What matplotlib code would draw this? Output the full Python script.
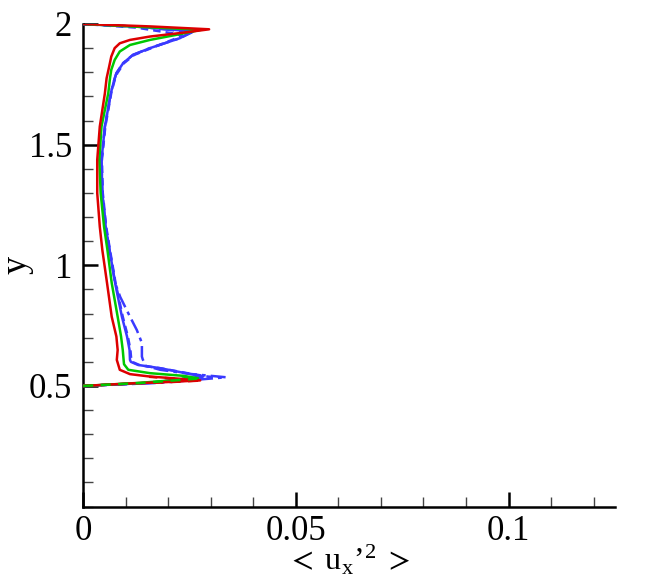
import matplotlib
matplotlib.use("Agg")
import matplotlib.pyplot as plt
from matplotlib.ticker import MultipleLocator, FixedLocator, FixedFormatter

plt.rcParams['font.family'] = ['Liberation Serif', 'DejaVu Serif']
plt.rcParams['mathtext.fontset'] = 'stix'

# ---- data ----
red_x = [0, 0.0117, 0.0195, 0.0275, 0.0211, 0.0157, 0.0110, 0.0086, 0.0079, 0.0081,
         0.0078, 0.0067, 0.0056, 0.0045, 0.0039, 0.0033, 0.0033, 0.0039, 0.0051, 0.0055,
         0.0061, 0.0066, 0.0074, 0.0086, 0.0110, 0.0157, 0.0235, 0.0296, 0.0157, 0]
red_y = [0.500, 0.511, 0.516, 0.523, 0.532, 0.539, 0.549, 0.567, 0.608, 0.649,
         0.705, 0.787, 0.927, 1.063, 1.160, 1.299, 1.437, 1.575, 1.713, 1.775,
         1.823, 1.865, 1.900, 1.920, 1.934, 1.948, 1.964, 1.978, 1.990, 2.000]

red2_x = [0, 0.0115, 0.0193, 0.0272, 0.0208, 0.0155]
red2_y = [0.500, 0.510, 0.515, 0.522, 0.531, 0.538]

green_x = [0, 0.0134, 0.0270, 0.0235, 0.0157, 0.0106, 0.0096, 0.0095, 0.0093, 0.0089,
           0.0081, 0.0067, 0.0057, 0.0049, 0.0041, 0.0038, 0.0043, 0.0059, 0.0063, 0.0066,
           0.0074, 0.0086, 0.0110, 0.0157, 0.0219, 0.0277, 0.0134, 0]
green_y = [0.500, 0.513, 0.532, 0.542, 0.553, 0.567, 0.590, 0.608, 0.649, 0.705,
           0.787, 0.927, 1.063, 1.160, 1.300, 1.437, 1.575, 1.714, 1.775, 1.810,
           1.851, 1.886, 1.913, 1.934, 1.955, 1.976, 1.988, 2.000]

green2_x = [0, 0.0132, 0.0266, 0.0232]
green2_y = [0.500, 0.512, 0.530, 0.540]

blue_x = [0, 0.0157, 0.0282, 0.0235, 0.0180, 0.0129, 0.0112, 0.0110, 0.0109, 0.0103,
          0.0091, 0.0075, 0.0062, 0.0053, 0.0045, 0.0043, 0.0051, 0.0065, 0.0073, 0.0078,
          0.0094, 0.0117, 0.0157, 0.0227, 0.0258, 0.0134, 0]
blue_y = [0.500, 0.513, 0.539, 0.555, 0.574, 0.587, 0.600, 0.608, 0.649, 0.705,
          0.787, 0.927, 1.063, 1.160, 1.300, 1.437, 1.575, 1.714, 1.768, 1.796,
          1.838, 1.872, 1.900, 1.941, 1.969, 1.988, 2.000]

blue_dash_x = [0, 0.0160, 0.0300, 0.0245, 0.0186, 0.0133, 0.0115, 0.0113, 0.0111, 0.0105,
               0.0093, 0.0076, 0.0063, 0.0054, 0.0046, 0.0044, 0.0052, 0.0066, 0.0074, 0.0080,
               0.0096, 0.0120, 0.0160, 0.0215, 0.0232, 0.0125, 0]
blue_dash_y = [0.500, 0.513, 0.537, 0.553, 0.572, 0.586, 0.600, 0.608, 0.649, 0.705,
               0.787, 0.927, 1.063, 1.160, 1.300, 1.437, 1.575, 1.714, 1.768, 1.796,
               1.838, 1.872, 1.900, 1.938, 1.955, 1.985, 2.000]

blue_dd_x = [0, 0.0181, 0.0336, 0.0251, 0.0181, 0.0148, 0.0140, 0.0138, 0.0138, 0.0126,
             0.0110, 0.0087, 0.0075, 0.0062, 0.0053, 0.0045, 0.0043, 0.0051, 0.0065, 0.0073,
             0.0078, 0.0094, 0.0117, 0.0157, 0.0227, 0.0256, 0.0134, 0]
blue_dd_y = [0.500, 0.513, 0.536, 0.550, 0.567, 0.583, 0.610, 0.622, 0.678, 0.732,
             0.787, 0.869, 0.927, 1.063, 1.160, 1.300, 1.437, 1.575, 1.714, 1.768,
             1.796, 1.838, 1.872, 1.900, 1.941, 1.966, 1.988, 2.000]

x_ticks = [0, 0.05, 0.1]
x_tick_labels = ["0", "0.05", "0.1"]
y_ticks = [0.5, 1, 1.5, 2]
y_tick_labels = ["0.5", "1", "1.5", "2"]

RED = "#dd0000"
GREEN = "#00c800"
BLUE = "#3a3aff"

fig = plt.figure(figsize=(6.5, 5.78), dpi=100)
ax = fig.add_axes([0.128, 0.1235, 0.818, 0.835])

lw = 1.8
kw = dict(lw=lw, solid_joinstyle='round', dash_joinstyle='round')
ax.plot(blue_x, blue_y, color=BLUE, zorder=3, **kw)
ax.plot(blue_dash_x, blue_dash_y, color=BLUE, ls=(0, (3, 2)), zorder=3, **kw)
ax.plot(blue_dd_x, blue_dd_y, color=BLUE, ls=(0, (6, 2, 1.5, 2)), zorder=3, **kw)
ax.plot(green_x, green_y, color=GREEN, zorder=4, **kw)
ax.plot(red_x, red_y, color=RED, zorder=5, **kw)
ax.plot(red2_x, red2_y, color=RED, ls=(0, (4, 3)), zorder=5, **kw)
ax.plot(green2_x, green2_y, color=GREEN, ls=(0, (4, 3)), zorder=6, **kw)

ax.set_xlim(0, 0.125)
ax.set_ylim(0, 2)

ax.xaxis.set_major_locator(FixedLocator(x_ticks))
ax.xaxis.set_major_formatter(FixedFormatter(x_tick_labels))
ax.yaxis.set_major_locator(FixedLocator(y_ticks))
ax.yaxis.set_major_formatter(FixedFormatter(y_tick_labels))
ax.xaxis.set_minor_locator(MultipleLocator(0.01))
ax.yaxis.set_minor_locator(MultipleLocator(0.1))

for s in ['top', 'right']:
    ax.spines[s].set_visible(False)
for s in ['left', 'bottom']:
    ax.spines[s].set_linewidth(1.8)
    ax.spines[s].set_color('black')

ax.tick_params(which='major', direction='in', length=11, width=1.8, labelsize=25, pad=8, color='black')
ax.tick_params(which='minor', direction='in', length=7, width=1.0, color='#444444')
ax.tick_params(axis='x', which='major', pad=6)

ax.set_xlabel("$<\\;$u$_\\mathregular{x}$\u2019$^\\mathregular{2}$$\\;>$", fontsize=23)
ax.xaxis.set_label_coords(0.5, -0.076)
ax.set_ylabel("y", fontsize=26)
ax.yaxis.set_label_coords(-0.094, 0.5)

fig.savefig("out.png", dpi=100)
